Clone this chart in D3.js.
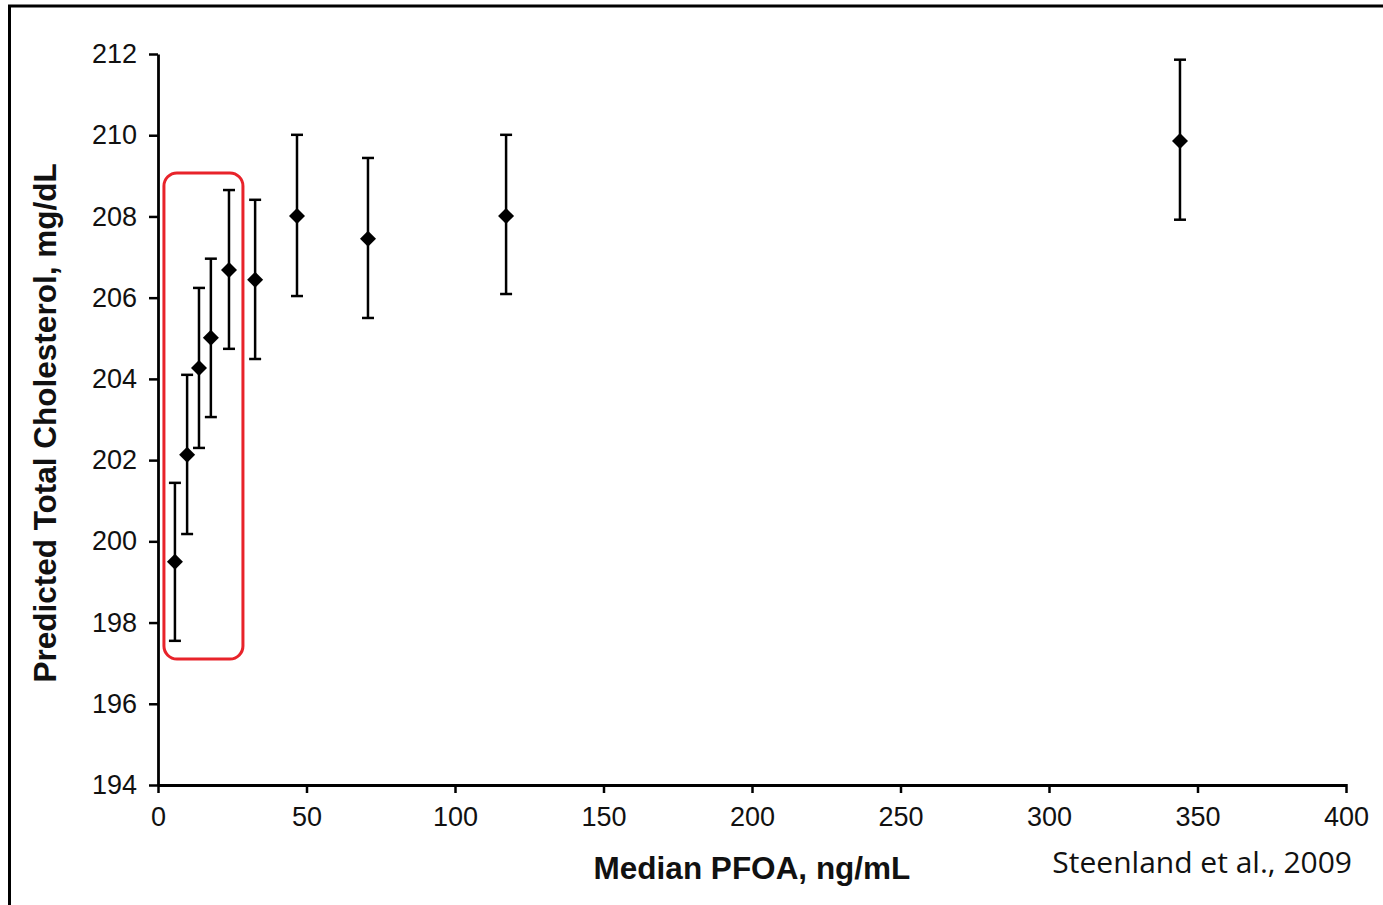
<!DOCTYPE html>
<html>
<head>
<meta charset="utf-8">
<script src="https://cdn.jsdelivr.net/npm/d3@7"></script>
<style>
  html, body { margin: 0; padding: 0; background: #fff; }
  svg { display: block; }
</style>
</head>
<body>
<svg id="chart"></svg>
<script>
// Median PFOA (ng/mL) per decile and predicted total cholesterol with CI
const pfoa =  [5.7, 9.8, 13.8, 17.8, 23.9, 32.7, 46.8, 70.7, 117.2, 344.1];
const chol =  [199.5, 202.13, 204.27, 205.01, 206.68, 206.44, 208.01, 207.45, 208.01, 209.86];
const lower = [197.55, 200.18, 202.3, 203.06, 204.74, 204.49, 206.04, 205.5, 206.09, 207.92];
const upper = [201.44, 204.1, 206.24, 206.96, 208.65, 208.41, 210.01, 209.44, 210.01, 211.86];

const xTicks = [0, 50, 100, 150, 200, 250, 300, 350, 400];
const yTicks = [194, 196, 198, 200, 202, 204, 206, 208, 210, 212];

// highlighted low-exposure region (data coords)
const boxX = [2.0, 28.6];
const boxY = [197.1, 209.07];

const width = 1383;
const height = 905;
const margin = { left: 158, right: 37, top: 54, bottom: 120 };

const svg = d3.select('#chart').attr('width', width).attr('height', height);

// frame lines from the cropped slide
svg.append('line').attr('x1', 8).attr('x2', width).attr('y1', 6).attr('y2', 6)
  .attr('stroke', '#000').attr('stroke-width', 3);
svg.append('line').attr('x1', 9.5).attr('x2', 9.5).attr('y1', 5).attr('y2', height)
  .attr('stroke', '#000').attr('stroke-width', 3);

const x = d3.scaleLinear().domain([0, 400]).range([margin.left, width - margin.right]);
const y = d3.scaleLinear().domain([194, 212]).range([height - margin.bottom, margin.top]);

const font = '"Liberation Sans", Arial, sans-serif';

const xAxis = svg.append('g')
  .attr('transform', `translate(0,${y(194)})`)
  .call(d3.axisBottom(x).tickValues(xTicks).tickSize(8).tickPadding(14).tickSizeOuter(0));
const yAxis = svg.append('g')
  .attr('transform', `translate(${x(0)},0)`)
  .call(d3.axisLeft(y).tickValues(yTicks).tickSize(9).tickPadding(12).tickSizeOuter(0));

[xAxis, yAxis].forEach((g) => {
  g.select('.domain').attr('stroke', '#000').attr('stroke-width', 2.8);
  g.selectAll('.tick line').attr('stroke', '#000').attr('stroke-width', 2.5);
  g.selectAll('.tick text').attr('fill', '#111').style('font-family', font).style('font-size', '27px');
});
xAxis.selectAll('.tick line').attr('y1', -1);

// red highlight box
svg.append('rect')
  .attr('x', x(boxX[0]))
  .attr('y', y(boxY[1]))
  .attr('width', x(boxX[1]) - x(boxX[0]))
  .attr('height', y(boxY[0]) - y(boxY[1]))
  .attr('rx', 13)
  .attr('fill', 'none')
  .attr('stroke', '#e8232a')
  .attr('stroke-width', 3);

const data = pfoa.map((v, i) => ({ x: v, y: chol[i], lo: lower[i], hi: upper[i] }));

const bars = svg.append('g').attr('stroke', '#000').attr('stroke-width', 2.5);
bars.selectAll('line.v').data(data).join('line').attr('class', 'v')
  .attr('x1', (d) => x(d.x)).attr('x2', (d) => x(d.x))
  .attr('y1', (d) => y(d.lo)).attr('y2', (d) => y(d.hi));
bars.selectAll('line.t').data(data).join('line').attr('class', 't')
  .attr('x1', (d) => x(d.x) - 6).attr('x2', (d) => x(d.x) + 6)
  .attr('y1', (d) => y(d.hi)).attr('y2', (d) => y(d.hi));
bars.selectAll('line.b').data(data).join('line').attr('class', 'b')
  .attr('x1', (d) => x(d.x) - 6).attr('x2', (d) => x(d.x) + 6)
  .attr('y1', (d) => y(d.lo)).attr('y2', (d) => y(d.lo));

svg.append('g').selectAll('path').data(data).join('path')
  .attr('transform', (d) => `translate(${x(d.x)},${y(d.y)})`)
  .attr('d', 'M0,-8L8,0L0,8L-8,0Z')
  .attr('fill', '#000');

// axis titles
svg.append('text')
  .attr('x', 752).attr('y', 879)
  .attr('text-anchor', 'middle')
  .style('font-family', font).style('font-size', '31.5px').style('font-weight', 'bold')
  .attr('fill', '#111')
  .text('Median PFOA, ng/mL');

svg.append('text')
  .attr('transform', `translate(56,${423}) rotate(-90)`)
  .attr('text-anchor', 'middle')
  .style('font-family', font).style('font-size', '31.5px').style('font-weight', 'bold')
  .attr('fill', '#111')
  .text('Predicted Total Cholesterol, mg/dL');

svg.append('text')
  .attr('x', 1352).attr('y', 873)
  .attr('text-anchor', 'end')
  .style('font-family', '"Open Sans", "Noto Sans", sans-serif').style('font-size', '30px')
  .attr('fill', '#111')
  .text('Steenland et al., 2009');
</script>
</body>
</html>
